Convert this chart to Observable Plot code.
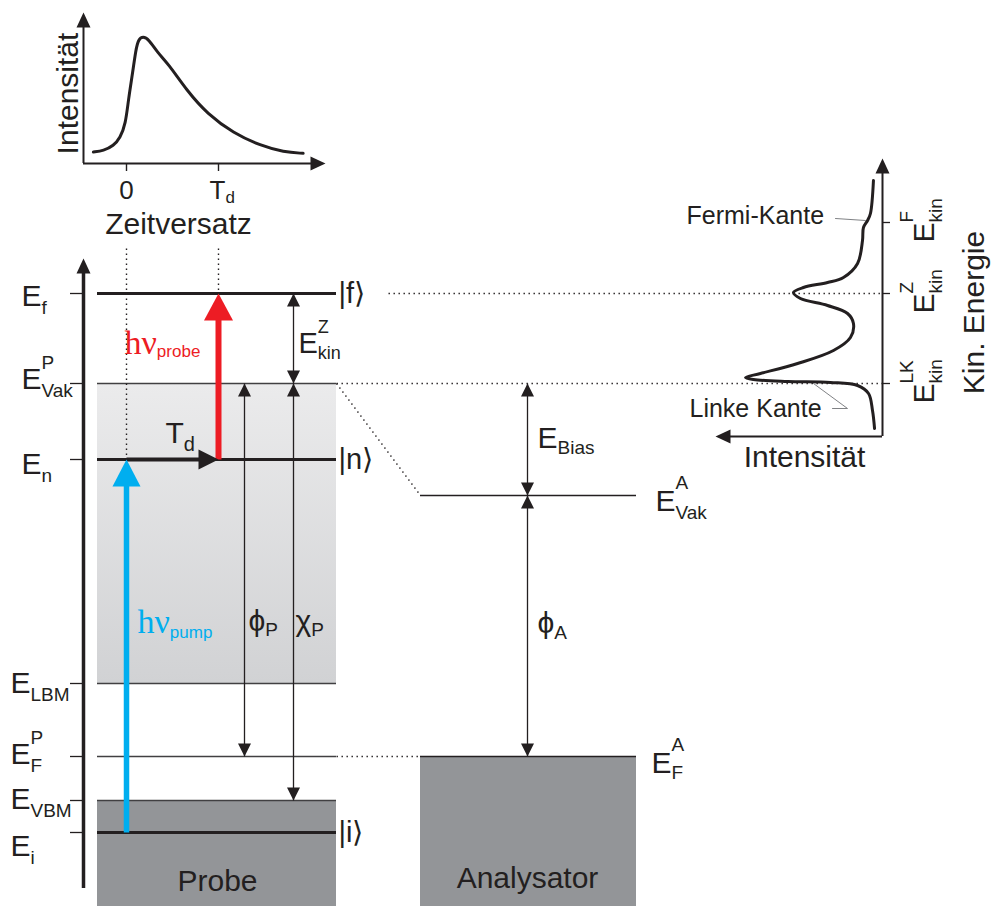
<!DOCTYPE html>
<html><head><meta charset="utf-8">
<script src="https://cdn.jsdelivr.net/npm/d3@7"></script>
<script src="https://cdn.jsdelivr.net/npm/@observablehq/plot@0.6"></script>
<style>body{margin:0;background:#fff} svg{display:block}</style>
</head><body><div id="chart"></div>
<script>
// ================= DATA =================
// Energy levels of the sample (diagram energy units, 0 = bottom of picture)
const levelNames  = ["E_f", "E_Vak^P", "E_n", "E_LBM", "E_F^P", "E_VBM", "E_i"];
const levelEnergy = [613, 523, 447, 223, 150, 106, 74];
const levelKets   = ["f", "", "n", "", "", "", "i"];
// Analyser levels
const analyzerNames  = ["E_Vak^A", "E_F^A"];
const analyzerEnergy = [411, 150];
// Time-resolved inset: intensity vs. delay (delay in units of T_d, intensity normalised)
const delayTime      = [-0.36, -0.25, -0.14, -0.07, -0.01, 0.02, 0.07, 0.10, 0.13, 0.18, 0.24, 0.34, 0.45, 0.66, 0.88, 1.16, 1.46, 1.71, 1.92];
const delayIntensity = [0.09, 0.10, 0.14, 0.20, 0.31, 0.50, 0.73, 0.89, 0.98, 1.00, 0.98, 0.87, 0.79, 0.57, 0.39, 0.24, 0.14, 0.09, 0.08];
const delayTickLabels = ["0", "T_d"];
const delayTickValues = [0, 1];
// Photoemission spectrum: kinetic energy (same energy units) vs. intensity (normalised)
const specEnergy    = [726, 693, 686, 679, 666, 643, 629, 624, 619, 614, 608, 601, 593, 583, 569, 556, 543, 533, 529, 527, 525, 524, 521, 513, 496, 478];
const specIntensity = [0.066, 0.088, 0.109, 0.139, 0.146, 0.182, 0.285, 0.401, 0.577, 0.650, 0.599, 0.401, 0.255, 0.212, 0.234, 0.358, 0.620, 0.891, 1.0, 0.942, 0.693, 0.380, 0.182, 0.102, 0.073, 0.058];
const specTickNames  = ["E_kin^F", "E_kin^Z", "E_kin^LK"];
const specTickEnergy = [684, 613, 523];

// ================= LAYOUT / STYLE =================
const W = 991, H = 906;
const INK = "#231f20", RED = "#ed1c24", BLUE = "#00aeef", DARK = "#939598", THIN = "#414042";
const SANS = "'Liberation Sans', Arial, Helvetica, sans-serif";
const SERIF = "'Liberation Serif', 'Times New Roman', serif";
const AXIS_X = 83, TICK_X1 = 70;
const PROBE = [97, 336], ANALYZER = [420, 636];
const PUMP_X = 126, PROBE_X = 218, PHI_P_X = 244, CHI_X = 293, BIAS_X = 527;
const KET_X = 338, DOT_F_START = 388, SPEC_X = 882, SPEC_BASE = 470, SPEC_SCALE = 137;
const INSET = {x0: 126, tScale: 92, base: 743, iScale: 127, axisLeft: 83, axisRight: 325, axisTop: 894, dotTop: 658};

const lvl = Object.fromEntries(levelNames.map((n, i) => [n, levelEnergy[i]]));
const alv = Object.fromEntries(analyzerNames.map((n, i) => [n, analyzerEnergy[i]]));
const levels = levelNames.map((name, i) => ({name, e: levelEnergy[i], ket: levelKets[i]}));

// text measurement
const ctx2d = document.createElement("canvas").getContext("2d");
function tw(s, size, fam) { ctx2d.font = `${size}px ${fam}`; return ctx2d.measureText(s).width; }
function parseLabel(s) {
  const m = s.match(/^([^_^]+)(?:_([^_^]+))?(?:\^([^_^]+))?$/);
  return [m[1], m[2] || "", m[3] || ""];
}

// filled arrow-head symbols, tip at the anchor point
function head(w, h, dir) {
  return {draw(c) {
    if (dir === "up") { c.moveTo(0, 0); c.lineTo(w / 2, h); c.lineTo(-w / 2, h); }
    else if (dir === "down") { c.moveTo(0, 0); c.lineTo(w / 2, -h); c.lineTo(-w / 2, -h); }
    else if (dir === "right") { c.moveTo(0, 0); c.lineTo(-h, w / 2); c.lineTo(-h, -w / 2); }
    else { c.moveTo(0, 0); c.lineTo(h, w / 2); c.lineTo(h, -w / 2); }
    c.closePath();
  }};
}

const marks = [];
const txt = (rows, o) => Plot.text(rows, {x: "x", y: "y", text: "t", lineAnchor: "bottom", fontFamily: SANS, fill: INK, ...o});

function rich({label, x, y, size = 30, subSize = 19, color = INK, family = SANS, baseFamily, subDx = 0, subDy = 8, supDx = 0, supDy = -20, rotate = 0}) {
  const [base, sub, sup] = parseLabel(label);
  const bf = baseFamily || family;
  const wB = tw(base, size, bf);
  const row = t => [{x, y, t}];
  const common = {fill: color, textAnchor: "start", rotate};
  marks.push(txt(row(base), {...common, fontSize: size, fontFamily: bf}));
  const off = (along, perp) => rotate === -90 ? {dx: perp, dy: -along} : {dx: along, dy: perp};
  if (sub) marks.push(txt(row(sub), {...common, fontSize: subSize, fontFamily: family, ...off(wB + subDx, subDy)}));
  if (sup) marks.push(txt(row(sup), {...common, fontSize: subSize, fontFamily: family, ...off(wB + supDx, supDy)}));
}
function plain(label, x, y, size, anchor = "middle", rotate = 0, color = INK) {
  marks.push(txt([{x, y, t: label}], {fontSize: size, textAnchor: anchor, rotate, fill: color}));
}

// ---------- regions ----------
marks.push(Plot.rect([{x1: PROBE[0], x2: PROBE[1], y1: lvl.E_LBM, y2: lvl["E_Vak^P"]}],
  {x1: "x1", x2: "x2", y1: "y1", y2: "y2", fill: "url(#vacgrad)"}));
marks.push(Plot.rect([{x1: PROBE[0], x2: PROBE[1], y1: 0, y2: lvl.E_VBM}, {x1: ANALYZER[0], x2: ANALYZER[1], y1: 0, y2: alv["E_F^A"]}],
  {x1: "x1", x2: "x2", y1: "y1", y2: "y2", fill: DARK}));

// ---------- level lines ----------
marks.push(Plot.ruleY(levels.filter(d => !d.ket), {y: "e", x1: PROBE[0], x2: PROBE[1], stroke: THIN, strokeWidth: 1.4}));
marks.push(Plot.ruleY(levels.filter(d => d.ket), {y: "e", x1: PROBE[0], x2: PROBE[1], stroke: INK, strokeWidth: 3}));
marks.push(Plot.ruleY([alv["E_Vak^A"], alv["E_F^A"]], {y: d => d, x1: ANALYZER[0], x2: ANALYZER[1], stroke: INK, strokeWidth: 1.4}));
marks.push(Plot.ruleY(levels, {y: "e", x1: TICK_X1, x2: AXIS_X, stroke: INK, strokeWidth: 1.3}));
// main energy axis
marks.push(Plot.ruleX([AXIS_X], {y1: 18, y2: 636, stroke: INK, strokeWidth: 3.5}));

// ---------- dotted guide lines ----------
const dash = {stroke: INK, strokeWidth: 1.4, strokeDasharray: "1.4,3.6"};
marks.push(Plot.link([
  {x1: DOT_F_START, y1: lvl.E_f, x2: SPEC_X, y2: lvl.E_f},
  {x1: PROBE[1], y1: lvl["E_Vak^P"], x2: SPEC_X, y2: lvl["E_Vak^P"]},
  {x1: PROBE[1], y1: lvl["E_F^P"], x2: ANALYZER[0], y2: alv["E_F^A"]},
  {x1: PROBE[1], y1: lvl["E_Vak^P"], x2: ANALYZER[0], y2: alv["E_Vak^A"]},
  {x1: PUMP_X, y1: INSET.dotTop, x2: PUMP_X, y2: lvl.E_n},
  {x1: PROBE_X, y1: INSET.dotTop, x2: PROBE_X, y2: lvl.E_f}
], {x1: "x1", y1: "y1", x2: "x2", y2: "y2", ...dash}));

// ---------- arrows ----------
const heads = [];
const thinArrows = [
  {x: CHI_X, lo: lvl["E_Vak^P"], hi: lvl.E_f},
  {x: PHI_P_X, lo: lvl["E_F^P"], hi: lvl["E_Vak^P"]},
  {x: CHI_X, lo: lvl.E_VBM, hi: lvl["E_Vak^P"]},
  {x: BIAS_X, lo: alv["E_Vak^A"], hi: lvl["E_Vak^P"]},
  {x: BIAS_X, lo: alv["E_F^A"], hi: alv["E_Vak^A"]}
];
marks.push(Plot.link(thinArrows, {x1: "x", x2: "x", y1: "lo", y2: "hi", stroke: INK, strokeWidth: 1.3}));
thinArrows.forEach(a => { heads.push({x: a.x, y: a.hi, dir: "up", k: "thin"}); heads.push({x: a.x, y: a.lo, dir: "down", k: "thin"}); });

// pump (blue) and probe (red) transitions, delay arrow
marks.push(Plot.link([{x1: PUMP_X, y1: lvl.E_i, x2: PUMP_X, y2: lvl.E_n - 14}], {x1: "x1", y1: "y1", x2: "x2", y2: "y2", stroke: BLUE, strokeWidth: 5.5}));
marks.push(Plot.link([{x1: PROBE_X, y1: lvl.E_n, x2: PROBE_X, y2: lvl.E_f - 14}], {x1: "x1", y1: "y1", x2: "x2", y2: "y2", stroke: RED, strokeWidth: 6}));
marks.push(Plot.link([{x1: PUMP_X, y1: lvl.E_n, x2: PROBE_X - 10, y2: lvl.E_n}], {x1: "x1", y1: "y1", x2: "x2", y2: "y2", stroke: INK, strokeWidth: 4}));
marks.push(Plot.dot([{x: PUMP_X, y: lvl.E_n}], {x: "x", y: "y", symbol: head(28, 27, "up"), fill: BLUE, stroke: "none"}));
marks.push(Plot.dot([{x: PROBE_X, y: lvl.E_f}], {x: "x", y: "y", symbol: head(29, 27, "up"), fill: RED, stroke: "none"}));
marks.push(Plot.dot([{x: PROBE_X, y: lvl.E_n}], {x: "x", y: "y", symbol: head(20, 20, "right"), fill: INK, stroke: "none"}));

// axis arrow heads
heads.push({x: AXIS_X, y: 648, dir: "up", k: "axis"});
heads.push({x: INSET.axisLeft, y: INSET.axisTop, dir: "up", k: "axis"});
heads.push({x: INSET.axisRight, y: INSET.base, dir: "right", k: "axis"});
heads.push({x: SPEC_X, y: 748, dir: "up", k: "axis"});
heads.push({x: 715, y: SPEC_BASE, dir: "left", k: "axis"});
const hs = {thin: [13, 13], axis: [14, 15]};
for (const k of ["thin", "axis"]) for (const dir of ["up", "down", "left", "right"]) {
  const sel = heads.filter(h => h.k === k && h.dir === dir);
  if (sel.length) marks.push(Plot.dot(sel, {x: "x", y: "y", symbol: head(hs[k][0], hs[k][1], dir), fill: INK, stroke: "none"}));
}

// ---------- top inset: intensity vs delay ----------
const dT = t => INSET.x0 + t * INSET.tScale;
const dI = i => INSET.base + i * INSET.iScale;
marks.push(Plot.ruleX([INSET.axisLeft], {y1: INSET.base, y2: INSET.axisTop - 10, stroke: INK, strokeWidth: 2}));
marks.push(Plot.ruleY([INSET.base], {x1: INSET.axisLeft, x2: INSET.axisRight - 10, stroke: INK, strokeWidth: 2}));
marks.push(Plot.ruleX(delayTickValues, {x: dT, y1: INSET.base, y2: INSET.base - 8, stroke: INK, strokeWidth: 1.4}));
marks.push(Plot.line(delayTime.map((t, i) => ({x: dT(t), y: dI(delayIntensity[i])})),
  {x: "x", y: "y", curve: "basis", stroke: INK, strokeWidth: 3}));

// ---------- right inset: spectrum ----------
const sX = i => SPEC_X - i * SPEC_SCALE;
marks.push(Plot.ruleX([SPEC_X], {y1: SPEC_BASE, y2: 736, stroke: INK, strokeWidth: 2}));
marks.push(Plot.ruleY([SPEC_BASE], {x1: SPEC_X, x2: 727, stroke: INK, strokeWidth: 2}));
marks.push(Plot.ruleY(specTickEnergy, {y: d => d, x1: SPEC_X, x2: SPEC_X + 8, stroke: INK, strokeWidth: 1.3}));
marks.push(Plot.line(specEnergy.map((e, i) => ({x: sX(specIntensity[i]), y: e})),
  {x: "x", y: "y", curve: "catmull-rom", stroke: INK, strokeWidth: 3}));
// leader lines
marks.push(Plot.line([{x: 835, y: 688}, {x: 865, y: 686}], {x: "x", y: "y", stroke: "#808285", strokeWidth: 1}));
marks.push(Plot.line([{x: 832, y: 498}, {x: 847, y: 498}, {x: 813, y: 523}], {x: "x", y: "y", stroke: "#808285", strokeWidth: 1}));

// ---------- text ----------
const leftLayout = {"E_f": [21, 12], "E_Vak^P": [21, 5], "E_n": [21, 14], "E_LBM": [10, 9], "E_F^P": [10, 7], "E_VBM": [10, 8], "E_i": [10, 23]};
levels.forEach(d => {
  const [x, k] = leftLayout[d.name];
  rich({label: d.name, x, y: d.e - k, size: 30, subSize: 19});
  if (d.ket) plain(`|${d.ket}\u27E9`, KET_X, d.e - 9, 29, "start");
});
// top inset labels
plain(delayTickLabels[0], dT(delayTickValues[0]), 708, 26);
rich({label: delayTickLabels[1], x: dT(delayTickValues[1]) - 9, y: 708, size: 26, subSize: 17, subDy: 4, subDx: 0});
plain("Zeitversatz", 178, 673, 30);
plain("Intensität", 77, 813, 30, "middle", -90);
// transitions
rich({label: "hν_probe", x: 124, y: 553, size: 34, subSize: 17, subDy: 3, color: RED, baseFamily: SERIF});
rich({label: "T_d", x: 165, y: 464, size: 30, subSize: 20, subDx: 0, subDy: 8});
rich({label: "hν_pump", x: 137, y: 274, size: 34, subSize: 17, subDy: 5, color: BLUE, baseFamily: SERIF});
rich({label: "ϕ_P", x: 248, y: 276, size: 30, subSize: 19, subDy: 5});
rich({label: "χ_P", x: 295, y: 276, size: 30, subSize: 19, subDy: 5});
rich({label: "E_kin^Z", x: 298, y: 554, size: 29, subSize: 18, subDy: 6, supDy: -20});
rich({label: "E_Bias", x: 537, y: 459, size: 30, subSize: 19, subDy: 6});
rich({label: "E_Vak^A", x: 655, y: 396, size: 30, subSize: 19, subDy: 8, supDy: -22});
rich({label: "ϕ_A", x: 537, y: 274, size: 30, subSize: 19, subDy: 6});
rich({label: "E_F^A", x: 651, y: 134, size: 30, subSize: 19, subDy: 6, supDy: -22});
plain("Probe", 217, 16, 30);
plain("Analysator", 527, 19, 30);
// spectrum labels
plain("Fermi-Kante", 686, 683, 25, "start");
plain("Linke Kante", 689, 490, 25, "start");
plain("Intensität", 804, 440, 30);
specTickNames.forEach((n, i) => rich({label: n, x: 933, y: specTickEnergy[i] - 20, size: 30, subSize: 19, subDy: 8, supDy: -21, rotate: -90}));
plain("Kin. Energie", 983, 594, 30, "middle", -90);

const svg = Plot.plot({
  width: W, height: H,
  marginTop: 0, marginRight: 0, marginBottom: 0, marginLeft: 0,
  x: {domain: [0, W], axis: null},
  y: {domain: [0, H], axis: null},
  style: {fontFamily: SANS, background: "#fff", overflow: "visible"},
  marks
});
const NS = "http://www.w3.org/2000/svg";
const defs = document.createElementNS(NS, "defs");
const g = document.createElementNS(NS, "linearGradient");
g.setAttribute("id", "vacgrad"); g.setAttribute("x1", "0"); g.setAttribute("y1", "0"); g.setAttribute("x2", "0"); g.setAttribute("y2", "1");
[["0", "#ebebec"], ["1", "#d1d2d4"]].forEach(([o, c]) => {
  const s = document.createElementNS(NS, "stop"); s.setAttribute("offset", o); s.setAttribute("stop-color", c); g.appendChild(s);
});
defs.appendChild(g);
svg.insertBefore(defs, svg.firstChild);
document.getElementById("chart").appendChild(svg);
</script>
</body></html>
